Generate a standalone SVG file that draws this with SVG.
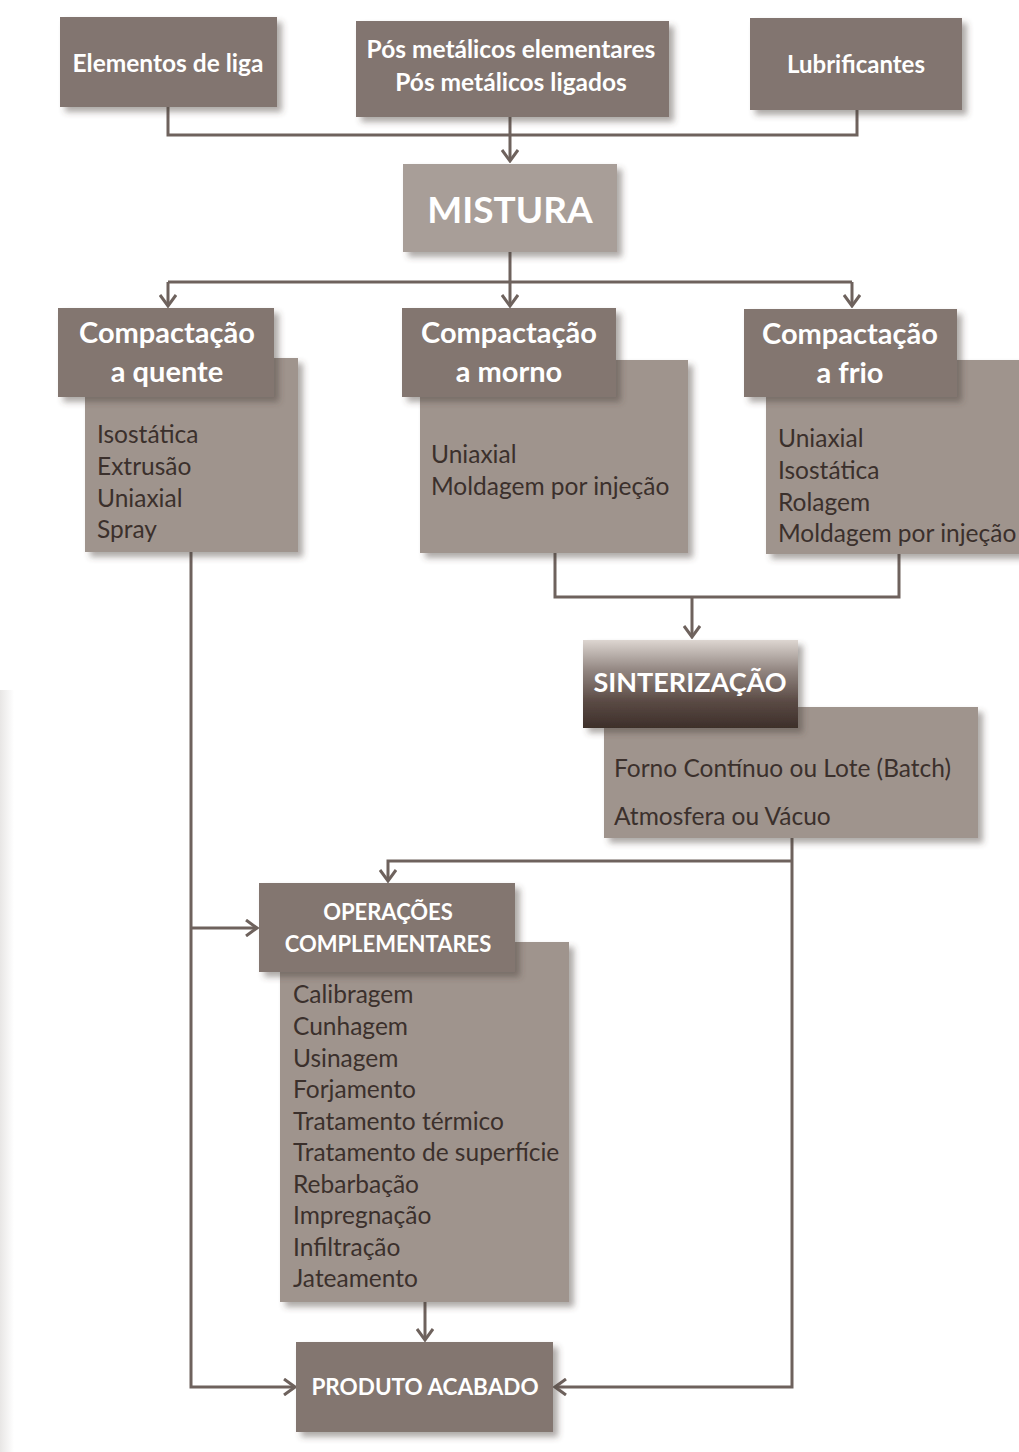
<svg xmlns="http://www.w3.org/2000/svg" width="1019" height="1452" viewBox="0 0 1019 1452">
  <defs>
    <style>
      .hdr { fill: #83766f; }
      .top { fill: #82756f; }
      .mix { fill: #a89e98; }
      .det { fill: #9f948d; }
      .ht { font-family: Lato, "Open Sans", "Liberation Sans", sans-serif; font-weight: bold; fill: #ffffff; text-anchor: middle; }
      .it { font-family: Lato, "Open Sans", "Liberation Sans", sans-serif; font-size: 24.5px; fill: #3b302c; }
      .wire { fill: none; stroke: #6e625d; stroke-width: 3; }
    </style>
    <filter id="shadow" x="-10%" y="-10%" width="130%" height="135%">
      <feDropShadow dx="5" dy="5" stdDeviation="3" flood-color="#4a403c" flood-opacity="0.45"/>
    </filter>
    <linearGradient id="sintGrad" x1="0" y1="0" x2="0" y2="1">
      <stop offset="0" stop-color="#ddd6d1"/>
      <stop offset="0.35" stop-color="#918580"/>
      <stop offset="0.7" stop-color="#5a4a44"/>
      <stop offset="1" stop-color="#3d2f2a"/>
    </linearGradient>
    <linearGradient id="edge" x1="0" y1="0" x2="1" y2="0">
      <stop offset="0" stop-color="#e8e6e5"/>
      <stop offset="1" stop-color="#ffffff"/>
    </linearGradient>
    <marker id="arrow" viewBox="0 0 14 18" refX="12" refY="9" markerWidth="14" markerHeight="18" markerUnits="userSpaceOnUse" orient="auto">
      <path d="M1,1 L12,9 L1,17" fill="none" stroke="#6e625d" stroke-width="3"/>
    </marker>
  </defs>

  <rect width="1019" height="1452" fill="#ffffff"/>
  <rect x="0" y="690" width="14" height="762" fill="url(#edge)"/>

  <!-- connectors -->
  <g id="connectors">
    <path class="wire" d="M168,107 V135 H857 V110"/>
    <path class="wire" d="M510,117 V161" marker-end="url(#arrow)"/>
    <path class="wire" d="M510,252 V282"/>
    <path class="wire" d="M168,282 H852"/>
    <path class="wire" d="M168,282 V306" marker-end="url(#arrow)"/>
    <path class="wire" d="M510,282 V306" marker-end="url(#arrow)"/>
    <path class="wire" d="M852,282 V306" marker-end="url(#arrow)"/>
    <path class="wire" d="M555,553 V597 H899 V554"/>
    <path class="wire" d="M692,597 V637" marker-end="url(#arrow)"/>
    <path class="wire" d="M792,838 V1387 H555" marker-end="url(#arrow)"/>
    <path class="wire" d="M792,861 H388 V881" marker-end="url(#arrow)"/>
    <path class="wire" d="M191,552 V1387 H295" marker-end="url(#arrow)"/>
    <path class="wire" d="M191,928 H257" marker-end="url(#arrow)"/>
    <path class="wire" d="M425,1302 V1340" marker-end="url(#arrow)"/>
  </g>

  <!-- inputs -->
  <g id="elementos">
    <rect class="top" x="60" y="17" width="217" height="90" filter="url(#shadow)"/>
    <text class="ht" x="168" y="72" font-size="24.5">Elementos de liga</text>
  </g>
  <g id="pos">
    <rect class="top" x="356" y="21" width="313" height="96" filter="url(#shadow)"/>
    <text class="ht" x="511" y="58" font-size="24.5">Pós metálicos elementares</text>
    <text class="ht" x="511" y="91" font-size="24.5">Pós metálicos ligados</text>
  </g>
  <g id="lubrificantes">
    <rect class="top" x="750" y="18" width="212" height="92" filter="url(#shadow)"/>
    <text class="ht" x="856" y="73" font-size="24">Lubrificantes</text>
  </g>

  <g id="mistura">
    <rect class="mix" x="403" y="164" width="214" height="88" filter="url(#shadow)"/>
    <text class="ht" x="510" y="223" font-size="37">MISTURA</text>
  </g>

  <!-- compaction routes -->
  <g id="quente">
    <rect class="det" x="85" y="358" width="213" height="194" filter="url(#shadow)"/>
    <rect class="hdr" x="58" y="308" width="216" height="89" filter="url(#shadow)"/>
    <text class="ht" x="167" y="343" font-size="29">Compactação</text>
    <text class="ht" x="167" y="382" font-size="29">a quente</text>
    <text class="it" x="97" y="443">Isostática</text>
    <text class="it" x="97" y="475">Extrusão</text>
    <text class="it" x="97" y="507">Uniaxial</text>
    <text class="it" x="97" y="538">Spray</text>
  </g>
  <g id="morno">
    <rect class="det" x="420" y="360" width="268" height="193" filter="url(#shadow)"/>
    <rect class="hdr" x="402" y="308" width="214" height="89" filter="url(#shadow)"/>
    <text class="ht" x="509" y="343" font-size="29">Compactação</text>
    <text class="ht" x="509" y="382" font-size="29">a morno</text>
    <text class="it" x="431" y="463">Uniaxial</text>
    <text class="it" x="431" y="495">Moldagem por injeção</text>
  </g>
  <g id="frio">
    <rect class="det" x="766" y="360" width="260" height="194" filter="url(#shadow)"/>
    <rect class="hdr" x="744" y="309" width="213" height="88" filter="url(#shadow)"/>
    <text class="ht" x="850" y="344" font-size="29">Compactação</text>
    <text class="ht" x="850" y="383" font-size="29">a frio</text>
    <text class="it" x="778" y="447">Uniaxial</text>
    <text class="it" x="778" y="479">Isostática</text>
    <text class="it" x="778" y="511">Rolagem</text>
    <text class="it" x="778" y="542">Moldagem por injeção</text>
  </g>

  <g id="sinterizacao">
    <rect class="det" x="604" y="707" width="374" height="131" filter="url(#shadow)"/>
    <rect x="583" y="640" width="215" height="88" fill="url(#sintGrad)" filter="url(#shadow)"/>
    <text class="ht" x="690" y="692" font-size="27">SINTERIZAÇÃO</text>
    <text class="it" x="614" y="777">Forno Contínuo ou Lote (Batch)</text>
    <text class="it" x="614" y="825">Atmosfera ou Vácuo</text>
  </g>

  <g id="operacoes">
    <rect class="det" x="280" y="942" width="289" height="360" filter="url(#shadow)"/>
    <rect class="hdr" x="259" y="883" width="256" height="89" filter="url(#shadow)"/>
    <text class="ht" x="388" y="920" font-size="22">OPERAÇÕES</text>
    <text class="ht" x="388" y="952" font-size="22">COMPLEMENTARES</text>
    <text class="it" x="293" y="1003">Calibragem</text>
    <text class="it" x="293" y="1035">Cunhagem</text>
    <text class="it" x="293" y="1067">Usinagem</text>
    <text class="it" x="293" y="1098">Forjamento</text>
    <text class="it" x="293" y="1130">Tratamento térmico</text>
    <text class="it" x="293" y="1161">Tratamento de superfície</text>
    <text class="it" x="293" y="1193">Rebarbação</text>
    <text class="it" x="293" y="1224">Impregnação</text>
    <text class="it" x="293" y="1256">Infiltração</text>
    <text class="it" x="293" y="1287">Jateamento</text>
  </g>

  <g id="produto">
    <rect class="hdr" x="296" y="1342" width="257" height="90" filter="url(#shadow)"/>
    <text class="ht" x="425" y="1395" font-size="22.5">PRODUTO ACABADO</text>
  </g>
</svg>
